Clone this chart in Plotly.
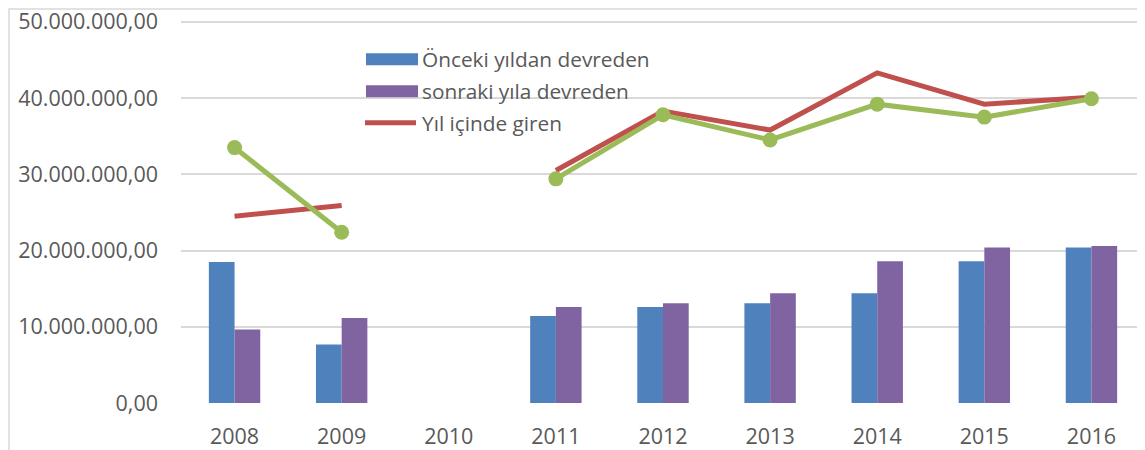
import plotly.graph_objects as go

years = ["2008", "2009", "2010", "2011", "2012", "2013", "2014", "2015", "2016"]
onceki = [18.5e6, 7.66e6, None, 11.4e6, 12.6e6, 13.1e6, 14.4e6, 18.6e6, 20.4e6]
sonraki = [9.63e6, 11.15e6, None, 12.6e6, 13.1e6, 14.4e6, 18.6e6, 20.4e6, 20.6e6]
giren = [24.5e6, 25.9e6, None, 30.5e6, 38.3e6, 35.8e6, 43.3e6, 39.2e6, 40.1e6]
cikan = [33.5e6, 22.4e6, None, 29.4e6, 37.8e6, 34.5e6, 39.2e6, 37.5e6, 39.9e6]
names = ["Önceki yıldan devreden", "sonraki yıla devreden", "Yıl içinde giren", "Yıl içinde çıkan"]
tickvals = [0, 10e6, 20e6, 30e6, 40e6, 50e6]
ticktext = ["0,00", "10.000.000,00", "20.000.000,00", "30.000.000,00", "40.000.000,00", "50.000.000,00"]

BLUE, PURPLE, RED, GREEN = "#4f81bd", "#8064a2", "#c0504d", "#9bbb59"
TXT = "#595959"
FONT = "Open Sans"
FS = 21.5

OFF = 8  # page body margin
W_FIG, H_FIG = 1145, 450
YTOP = 50.5e6
PX_PER = 381 / 50e6
PW = 964
PH = YTOP * PX_PER
L = 181 - OFF
T = (21.7 - (YTOP - 50e6) * PX_PER) - OFF

def px(x):
    return (x - OFF - L) / PW

def py(y):
    return (T + PH - (y - OFF)) / PH

fig = go.Figure()
fig.add_trace(go.Bar(x=years, y=onceki, name=names[0], marker=dict(color=BLUE, line=dict(width=0)), showlegend=False))
fig.add_trace(go.Bar(x=years, y=sonraki, name=names[1], marker=dict(color=PURPLE, line=dict(width=0)), showlegend=False))
fig.add_trace(go.Scatter(x=years, y=giren, name=names[2], mode="lines", line=dict(color=RED, width=5),
                         connectgaps=False, showlegend=False))
fig.add_trace(go.Scatter(x=years, y=cikan, name=names[3], mode="lines+markers", line=dict(color=GREEN, width=5),
                         marker=dict(size=15, color=GREEN), connectgaps=False, showlegend=False))

shapes = [
    dict(type="rect", xref="paper", yref="paper", x0=px(9), x1=px(1170), y0=py(480), y1=py(9),
         line=dict(color="#d9d9d9", width=1.5), fillcolor="rgba(0,0,0,0)", layer="below"),
    dict(type="rect", xref="paper", yref="paper", x0=px(366), x1=px(418), y0=py(65), y1=py(53),
         line=dict(width=0), fillcolor=BLUE),
    dict(type="rect", xref="paper", yref="paper", x0=px(366), x1=px(418), y0=py(97), y1=py(85),
         line=dict(width=0), fillcolor=PURPLE),
    dict(type="line", xref="paper", yref="paper", x0=px(365), x1=px(416), y0=py(122.5), y1=py(122.5),
         line=dict(width=5, color=RED)),
]
annotations = []
for i, yy in enumerate([59, 91, 123]):
    annotations.append(dict(text=names[i], xref="paper", yref="paper", x=px(420), y=py(yy),
                            xanchor="left", yanchor="middle", showarrow=False,
                            font=dict(family=FONT, size=20.8, color=TXT)))

fig.update_layout(
    width=W_FIG, height=H_FIG,
    margin=dict(l=L, r=W_FIG - L - PW, t=T, b=H_FIG - T - PH, pad=0),
    paper_bgcolor="white", plot_bgcolor="white",
    barmode="group", bargap=0.52, bargroupgap=0,
    font=dict(family=FONT, size=FS, color=TXT),
    shapes=shapes, annotations=annotations,
    showlegend=False,
)
fig.update_xaxes(type="category", range=[-0.5, 8.5], showgrid=False, showline=False, zeroline=False,
                 ticks="", ticklabelstandoff=18, automargin=False, ticklabeloverflow="allow",
                 tickfont=dict(family=FONT, size=FS, color=TXT))
fig.update_yaxes(range=[0, YTOP], tickvals=tickvals, ticktext=ticktext, showgrid=True,
                 gridcolor="#d9d9d9", gridwidth=1.5, zeroline=False, showline=False, ticks="",
                 ticklabelstandoff=22, automargin=False, ticklabeloverflow="allow",
                 tickfont=dict(family=FONT, size=FS, color=TXT))

fig.write_html("out.html")
